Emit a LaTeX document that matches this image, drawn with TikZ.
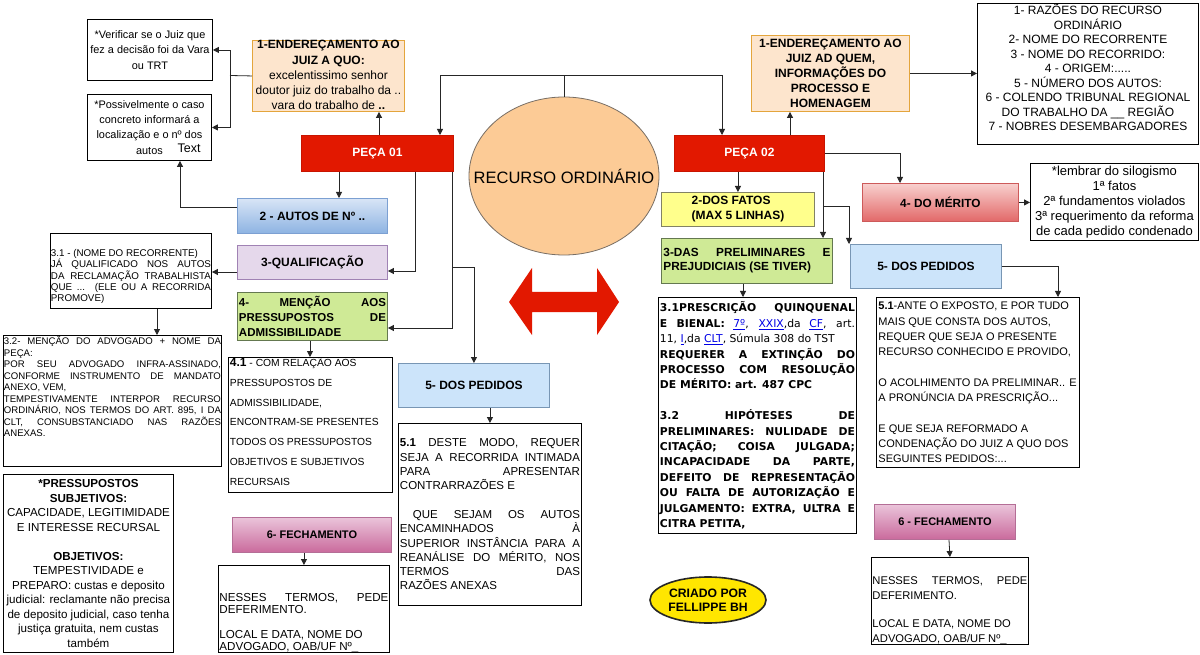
\documentclass[tikz,border=0pt]{standalone}
\usepackage{fontspec}
\setmainfont{Liberation Sans}
\newfontfamily\verd{DejaVu Sans}
\usetikzlibrary{arrows.meta,shapes.geometric}
\newcommand\fsz[2]{\fontsize{#1}{#2}\selectfont}
\newcommand\lk[1]{\textcolor{linkblue}{\underline{#1}}}
\definecolor{red1}{RGB}{226,24,0}
\definecolor{red2}{RGB}{200,20,0}
\definecolor{orfill}{RGB}{253,229,205}
\definecolor{orline}{RGB}{228,165,60}
\definecolor{peach}{RGB}{252,203,150}
\definecolor{ellline}{RGB}{120,110,100}
\definecolor{autT}{RGB}{216,229,246}
\definecolor{autB}{RGB}{141,179,226}
\definecolor{autL}{RGB}{124,160,210}
\definecolor{lav}{RGB}{229,216,235}
\definecolor{lavL}{RGB}{160,130,180}
\definecolor{grn}{RGB}{207,234,150}
\definecolor{grnL}{RGB}{100,120,80}
\definecolor{yel}{RGB}{255,255,140}
\definecolor{yelL}{RGB}{130,130,100}
\definecolor{blu}{RGB}{204,228,250}
\definecolor{bluL}{RGB}{120,150,180}
\definecolor{merT}{RGB}{248,208,206}
\definecolor{merB}{RGB}{226,104,104}
\definecolor{merL}{RGB}{205,90,90}
\definecolor{feT}{RGB}{234,196,218}
\definecolor{feB}{RGB}{202,106,156}
\definecolor{feL}{RGB}{180,110,150}
\definecolor{yel2}{RGB}{255,230,0}
\definecolor{linkblue}{RGB}{0,0,230}
\tikzset{
  bx/.style={draw=black, line width=0.9pt, anchor=north west, inner sep=0pt},
  wbx/.style={bx, fill=white},
  arr/.style={line width=0.8pt, draw=black!85, -{Triangle[length=6pt,width=6pt]}},
  ln/.style={line width=0.8pt, draw=black!85},
  lbl/.style={font=\bfseries\fsz{12}{14}},
}
\begin{document}
\begin{tikzpicture}[x=1pt,y=-1pt]
\useasboundingbox (0,0) rectangle (1200,655);
\fill[white] (0,0) rectangle (1200,655);

% ---------- left top
\node[wbx, minimum width=125, minimum height=61] (ver) at (87,19)
  {\parbox{121pt}{\centering\fsz{10.9}{15.5}*Verificar se o Juiz que\\fez a decisão foi da Vara\\ou TRT}};
\node[wbx, minimum width=124, minimum height=66] (pos) at (87,94)
  {\parbox{120pt}{\centering\fsz{10.9}{15.3}*Possivelmente o caso\\concreto informará a\\localização e o nº dos\\autos}};
\node[font=\fsz{12.5}{14}, inner sep=0pt] (txt) at (189,148) {Text};

\node[bx, fill=orfill, draw=orline, minimum width=152, minimum height=71] (endq) at (252,40)
  {\parbox[c][71pt][t]{150pt}{\centering\fsz{12}{15.2}\textbf{1-ENDEREÇAMENTO AO}\\\textbf{JUIZ A QUO:}\\excelentissimo senhor\\doutor juiz do trabalho da ..\\vara do trabalho de \textbf{..}}};

\node[bx, fill=red1, draw=red2, minimum width=152, minimum height=36, text=white, lbl] (peca1) at (301,135) {PEÇA 01};

\node[ellipse, draw=ellline, line width=0.8pt, fill=peach, minimum width=190, minimum height=158, inner sep=0pt, font=\fsz{16.5}{18}] (rec) at (564,176) {\makebox[0pt]{RECURSO ORDINÁRIO}};

\node[bx, top color=autT, bottom color=autB, draw=autL, minimum width=150, minimum height=35, lbl] (autos) at (237,198) {2 - AUTOS DE Nº ..};
\node[bx, fill=lav, draw=lavL, minimum width=150, minimum height=34, lbl] (qual) at (237,245) {3-QUALIFICAÇÃO};
\node[bx, fill=grn, draw=grnL, minimum width=150, minimum height=48] (menc) at (237,292)
  {\parbox{147pt}{\bfseries\fsz{11.5}{15}\tolerance=9999\hbadness=10000 4- MENÇÃO AOS\linebreak PRESSUPOSTOS DE\linebreak ADMISSIBILIDADE}};

\node[wbx, minimum width=161, minimum height=75] (nome) at (50,233)
  {\parbox[c][75pt][t]{160pt}{\vspace*{16pt}\fsz{9.8}{11.3}\tolerance=9999\hbadness=10000 3.1 - (NOME DO RECORRENTE)\\JÁ QUALIFICADO NOS AUTOS\linebreak DA RECLAMAÇÃO TRABALHISTA\linebreak QUE ... (ELE OU A RECORRIDA\linebreak PROMOVE)}};
\node[wbx, minimum width=218, minimum height=131] (adv) at (3,335)
  {\parbox[c][131pt][t]{217pt}{\vspace*{1pt}\fsz{9.6}{11.5}\tolerance=9999\hbadness=10000 3.2- MENÇÃO DO ADVOGADO + NOME DA\linebreak PEÇA:\\POR SEU ADVOGADO INFRA-ASSINADO,\linebreak CONFORME INSTRUMENTO DE MANDATO\linebreak ANEXO, VEM,\\TEMPESTIVAMENTE INTERPOR RECURSO\linebreak ORDINÁRIO, NOS TERMOS DO ART. 895, I DA\linebreak CLT, CONSUBSTANCIADO NAS RAZÕES\linebreak ANEXAS.}};
\node[wbx, minimum width=164, minimum height=135] (m41) at (228,357)
  {\parbox[c][135pt][t]{161pt}{\raggedright\fsz{10.3}{19.8}{\bfseries\fsz{12}{19.8}4.1} - COM RELAÇÃO AOS\\PRESSUPOSTOS DE\\ADMISSIBILIDADE,\\ENCONTRAM-SE PRESENTES\\TODOS OS PRESSUPOSTOS\\OBJETIVOS E SUBJETIVOS\\RECURSAIS}};

\node[bx, fill=blu, draw=bluL, minimum width=151, minimum height=44, lbl] (ped1) at (398,363) {5- DOS PEDIDOS};
\node[wbx, minimum width=183, minimum height=182] (p1x) at (398,423)
  {\parbox{180pt}{\fsz{11.5}{14.3}\tolerance=9999\hbadness=10000 \textbf{5.1} DESTE MODO, REQUER\linebreak SEJA A RECORRIDA INTIMADA\linebreak PARA APRESENTAR\linebreak CONTRARRAZÕES E\par\vspace{14.3pt}\hspace*{13pt}QUE SEJAM OS AUTOS\linebreak ENCAMINHADOS À\linebreak SUPERIOR INSTÂNCIA PARA A\linebreak REANÁLISE DO MÉRITO, NOS\linebreak TERMOS DAS\linebreak RAZÕES ANEXAS}};

\node[wbx, minimum width=170, minimum height=178] (press) at (3,474)
  {\parbox{168pt}{\centering\fsz{11.6}{14.5}\textbf{*PRESSUPOSTOS}\\\textbf{SUBJETIVOS:}\\CAPACIDADE, LEGITIMIDADE\\E INTERESSE RECURSAL\\[14.5pt]\textbf{OBJETIVOS:}\\TEMPESTIVIDADE e\\PREPARO: custas e deposito\\judicial: reclamante não precisa\\de deposito judicial, caso tenha\\justiça gratuita, nem custas\\também}};

\node[bx, top color=feT, bottom color=feB, draw=feL, minimum width=159, minimum height=35, font=\bfseries\fsz{11}{12}] (fe1) at (232,517) {6- FECHAMENTO};
\node[wbx, minimum width=171, minimum height=87] (ne1) at (218,565)
  {\parbox[c][85pt][b]{169pt}{\fsz{11.6}{12.2}\tolerance=9999\hbadness=10000 NESSES TERMOS, PEDE\linebreak DEFERIMENTO.\par\vspace{12.5pt}LOCAL E DATA, NOME DO\\ADVOGADO, OAB/UF Nº\_}};

% ---------- double arrow
\fill[red1] (509,302) -- (532,268) -- (532,292) -- (597,292) -- (597,268) -- (619,302) -- (597,335) -- (597,312) -- (532,312) -- (532,335) -- cycle;

% ---------- right side
\node[bx, fill=red1, draw=red2, minimum width=150, minimum height=36, text=white, lbl] (peca2) at (674,135) {PEÇA 02};
\node[bx, fill=orfill, draw=orline, minimum width=158, minimum height=76] (endad) at (751,35)
  {\parbox{156pt}{\centering\bfseries\fsz{12}{15}1-ENDEREÇAMENTO AO\\JUIZ AD QUEM,\\INFORMAÇÕES DO\\PROCESSO E\\HOMENAGEM}};
\node[wbx, minimum width=221, minimum height=141] (raz) at (977,3)
  {\parbox[c][139pt][t]{219pt}{\centering\fsz{12}{14.5}1- RAZÕES DO RECURSO\\ORDINÁRIO\\2- NOME DO RECORRENTE\\3 - NOME DO RECORRIDO:\\4 - ORIGEM:.....\\5 - NÚMERO DOS AUTOS:\\6 - COLENDO TRIBUNAL REGIONAL\\DO TRABALHO DA \_\_ REGIÃO\\7 - NOBRES DESEMBARGADORES}};
\node[bx, top color=merT, bottom color=merB, draw=merL, minimum width=156, minimum height=38, font=\bfseries\fsz{11.8}{14}] (mer) at (862,183) {4- DO MÉRITO};
\node[wbx, minimum width=168, minimum height=77] (sil) at (1030,163)
  {\parbox{166pt}{\centering\fsz{13}{15}*lembrar do silogismo\\1ª fatos\\2ª fundamentos violados\\3ª requerimento da reforma\\de cada pedido condenado}};
\node[bx, fill=yel, draw=yelL, minimum width=153, minimum height=34, font=\bfseries\fsz{12}{15}, align=left] (fat) at (661,192) {2-DOS FATOS\\(MAX 5 LINHAS)};
\node[bx, fill=grn, draw=grnL, minimum width=171, minimum height=45] (prel) at (661,238)
  {\parbox{167pt}{\bfseries\fsz{11.8}{14}\tolerance=9999\hbadness=10000 3-DAS PRELIMINARES E\linebreak PREJUDICIAIS (SE TIVER)}};
\node[bx, fill=blu, draw=bluL, minimum width=151, minimum height=44, lbl] (ped2) at (850,244) {5- DOS PEDIDOS};
\node[wbx, minimum width=198, minimum height=236] (p1t) at (658,297)
  {\parbox{195pt}{\verd\fsz{10.8}{15.4}\tolerance=9999\hbadness=10000 \textbf{3.1PRESCRIÇÃO QUINQUENAL\linebreak E BIENAL:} \lk{7º}, \lk{XXIX},da \lk{CF}, art.\linebreak 11, \lk{I},da \lk{CLT}, Súmula 308 do TST\par
  \textbf{REQUERER A EXTINÇÃO DO\linebreak PROCESSO COM RESOLUÇÃO\linebreak DE MÉRITO: art. 487 CPC}\par\vspace{15.4pt}
  \textbf{3.2 HIPÓTESES DE\linebreak PRELIMINARES: NULIDADE DE\linebreak CITAÇÃO; COISA JULGADA;\linebreak INCAPACIDADE DA PARTE,\linebreak DEFEITO DE REPRESENTAÇÃO\linebreak OU FALTA DE AUTORIZAÇÃO E\linebreak JULGAMENTO: EXTRA, ULTRA E\linebreak CITRA PETITA,}}};
\node[wbx, minimum width=203, minimum height=170] (p2t) at (876,297)
  {\parbox{199pt}{\raggedright\fsz{11}{15.3}\textbf{5.1}-ANTE O EXPOSTO, E POR TUDO\\MAIS QUE CONSTA DOS AUTOS,\\REQUER QUE SEJA O PRESENTE\\RECURSO CONHECIDO E PROVIDO,\\[15.3pt]O ACOLHIMENTO DA PRELIMINAR.. E\\A PRONÚNCIA DA PRESCRIÇÃO...\\[15.3pt]E QUE SEJA REFORMADO A\\CONDENAÇÃO DO JUIZ A QUO DOS\\SEGUINTES PEDIDOS:...}};
\node[bx, top color=feT, bottom color=feB, draw=feL, minimum width=141, minimum height=35, font=\bfseries\fsz{11}{12}] (fe2) at (874,504) {6 - FECHAMENTO};
\node[wbx, minimum width=157, minimum height=87] (ne2) at (871,557)
  {\parbox[c][85pt][b]{155pt}{\fsz{11.2}{14.5}\tolerance=9999\hbadness=10000 NESSES TERMOS, PEDE\linebreak DEFERIMENTO.\par\vspace{14pt}LOCAL E DATA, NOME DO\\ADVOGADO, OAB/UF Nº\_}};
\node[ellipse, draw=black!85, line width=1.6pt, fill=yel2, minimum width=116, minimum height=46, inner sep=0pt] (cri) at (708,600)
  {\makebox[0pt]{\parbox{110pt}{\centering\bfseries\fsz{12.2}{14}CRIADO POR\\FELLIPPE BH}}};

% ---------- connectors left
\coordinate (j1) at (230,75.5);
\draw[ln] (endq.west) -- (j1);
\draw[arr] (j1) |- (ver.east);
\draw[arr] (j1) |- (pos.east);
\draw[arr] (379,0 |- peca1.north) -- (379,0 |- endq.south);
\coordinate (j2) at (564,75);
\draw[ln] (rec.north) -- (j2);
\draw[arr] (j2) -| (440,0 |- peca1.north);
\draw[arr] (j2) -| (722,0 |- peca2.north);
\draw[arr] (339,0 |- peca1.south) -- (339,0 |- autos.north);
\draw[arr] (415,0 |- peca1.south) |- (qual.east |- 0,271);
\draw[arr] (452,0 |- peca1.south) |- (menc.east |- 0,328);
\coordinate (j3) at (452,267);
\draw[arr] (j3) -| (ped1.north);
\draw[arr] (autos.west |- 0,207) -| (180,0 |- pos.south);
\draw[arr] (qual.west |- 0,272) -- (nome.east |- 0,272);
\draw[arr] (157,0 |- nome.south) -- (157,0 |- adv.north);
\draw[arr] (310,0 |- menc.south) -- (310,0 |- m41.north);
\draw[arr] (p1x.north |- ped1.south) -- (p1x.north);
\draw[arr] (ne1.north |- fe1.south) -- (ne1.north);
% ---------- connectors right
\draw[arr] (790,0 |- peca2.north) -- (790,0 |- endad.south);
\draw[arr] (endad.east) -- (raz.west |- endad.east);
\draw[arr] (peca2.east) -| (900,0 |- mer.north);
\draw[arr] (mer.east) -- (sil.west |- mer.east);
\draw[arr] (fat.north |- peca2.south) -- (fat.north);
\draw[arr] (823,0 |- peca2.south) -- (823,0 |- prel.north);
\coordinate (j4) at (823,206);
\draw[arr] (j4) -| (849,0 |- ped2.north);
\draw[arr] (743,0 |- prel.south) -- (743,0 |- p1t.north);
\draw[arr] (ped2.east) -| (1058,0 |- p2t.north);
\draw[arr] (949,0 |- fe2.south) -- (ne2.north);
\end{tikzpicture}
\end{document}
